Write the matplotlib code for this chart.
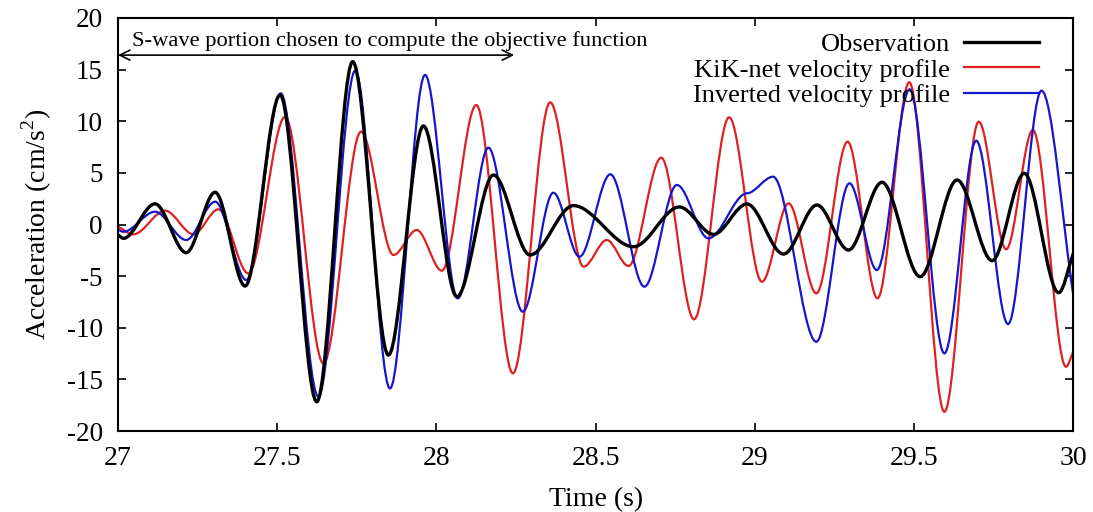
import matplotlib
matplotlib.use("Agg")
import matplotlib.pyplot as plt
from matplotlib.path import Path
from matplotlib.patches import PathPatch
from matplotlib.lines import Line2D

plt.rcParams["font.family"] = ["Liberation Serif", "DejaVu Serif"]
plt.rcParams["mathtext.fontset"] = "custom"
plt.rcParams["mathtext.rm"] = "Liberation Serif"
plt.rcParams["axes.unicode_minus"] = False

# Turning points (time in s, acceleration in cm/s^2) of each trace
obs_t = [27.0, 27.017, 27.116, 27.214, 27.305, 27.399, 27.509, 27.624, 27.737,
         27.849, 27.959, 28.064, 28.179, 28.294, 28.430, 28.619, 28.763, 28.870,
         28.975, 29.090, 29.195, 29.294, 29.399, 29.519, 29.635, 29.745, 29.846,
         29.954, 30.0]
obs_v = [-1.0, -1.34, 2.0, -2.73, 3.12, -5.96, 12.54, -17.16, 15.77,
         -12.64, 9.54, -6.99, 4.79, -2.95, 1.83, -2.15, 1.7, -0.95,
         1.99, -2.86, 1.89, -2.47, 4.09, -5.05, 4.31, -3.5, 4.96,
         -6.6, -2.8]

kik_t = [27.0, 27.048, 27.148, 27.237, 27.315, 27.409, 27.525, 27.645, 27.763,
         27.865, 27.938, 28.017, 28.125, 28.240, 28.357, 28.462, 28.535, 28.603,
         28.706, 28.809, 28.919, 29.022, 29.106, 29.193, 29.291, 29.385, 29.485,
         29.595, 29.703, 29.789, 29.873, 29.977, 30.0]
kik_v = [-0.2, -0.95, 1.34, -0.95, 1.47, -4.73, 10.44, -13.45, 8.99,
         -2.95, -0.53, -4.47, 11.57, -14.41, 11.83, -4.08, -1.5, -4.02,
         6.47, -9.18, 10.38, -5.54, 2.05, -6.67, 8.02, -7.15, 13.77,
         -18.13, 9.96, -2.4, 9.15, -13.77, -12.3]

inv_t = [27.0, 27.017, 27.116, 27.214, 27.305, 27.403, 27.511, 27.629, 27.745,
         27.854, 27.964, 28.067, 28.163, 28.271, 28.367, 28.449, 28.546, 28.653,
         28.755, 28.854, 28.975, 29.057, 29.193, 29.297, 29.383, 29.486, 29.595,
         29.695, 29.795, 29.900, 30.0]
inv_v = [-0.5, -0.7, 1.24, -1.5, 2.21, -5.38, 12.7, -16.67, 14.9,
         -15.87, 14.48, -7.15, 7.44, -8.44, 3.08, -3.12, 4.86, -6.02,
         3.83, -1.34, 3.02, 4.63, -11.35, 3.99, -4.41, 13.09, -12.48,
         8.12, -9.64, 12.96, -6.83]

series_labels = ["Observation", "KiK-net velocity profile", "Inverted velocity profile"]
x_ticks = [27, 27.5, 28, 28.5, 29, 29.5, 30]
x_tick_labels = ["27", "27.5", "28", "28.5", "29", "29.5", "30"]
y_ticks = [-20, -15, -10, -5, 0, 5, 10, 15, 20]
window_start, window_end = 27.0, 28.244
window_text = "S-wave portion chosen to compute the objective function"


def smooth_path(ts, vs):
    """Cubic Bezier path through the turning points, flat at each extremum."""
    n = len(ts)
    slopes = [0.0] * n
    slopes[0] = (vs[1] - vs[0]) / (ts[1] - ts[0])
    slopes[-1] = (vs[-1] - vs[-2]) / (ts[-1] - ts[-2])
    verts = [(ts[0], vs[0])]
    codes = [Path.MOVETO]
    for i in range(n - 1):
        dx = ts[i + 1] - ts[i]
        verts.append((ts[i] + dx / 3, vs[i] + slopes[i] * dx / 3))
        verts.append((ts[i + 1] - dx / 3, vs[i + 1] - slopes[i + 1] * dx / 3))
        verts.append((ts[i + 1], vs[i + 1]))
        codes += [Path.CURVE4] * 3
    return Path(verts, codes)


fig = plt.figure(figsize=(10.93, 5.12), dpi=100)
ax = fig.add_axes([0.108, 0.158, 0.874, 0.807])

styles = [
    dict(color="black", lw=2.4),
    dict(color="#e02020", lw=1.6),
    dict(color="#1515cc", lw=1.6),
]
series = [(obs_t, obs_v), (kik_t, kik_v), (inv_t, inv_v)]

# thin traces first, observation on top
for idx in (1, 2, 0):
    ts, vs = series[idx]
    st = styles[idx]
    ax.add_patch(PathPatch(smooth_path(ts, vs), fill=False, edgecolor=st["color"],
                           lw=st["lw"], capstyle="round", joinstyle="round",
                           zorder=3 if idx == 0 else 2))

ax.set_xlim(27, 30)
ax.set_ylim(-20, 20)
ax.set_xticks(x_ticks)
ax.set_xticklabels(x_tick_labels)
ax.set_yticks(y_ticks)
ax.tick_params(direction="in", top=True, right=True, length=6, width=1.2)
ax.tick_params(axis="x", pad=11, labelsize=20)
ax.tick_params(axis="y", pad=11, labelsize=19.5)
for sp in ax.spines.values():
    sp.set_linewidth(1.5)

ax.set_xlabel("Time (s)", fontsize=20, labelpad=11)
ax.set_ylabel(r"Acceleration (cm/s$^\mathrm{2}$)", fontsize=20, labelpad=9)

# window used for the objective function
ax.annotate("", xy=(window_start, 16.4), xytext=(window_end, 16.4),
            arrowprops=dict(arrowstyle="<->", color="black", lw=1.2,
                            shrinkA=0, shrinkB=0, mutation_scale=18))
ax.text(window_start + 0.045, 16.8, window_text, fontsize=16.2, ha="left",
        va="bottom")

handles = [Line2D([], [], **st) for st in styles]
ax.legend(handles, series_labels, loc="upper right", frameon=False,
          markerfirst=False, fontsize=19, handlelength=2.85, handletextpad=0.55,
          labelspacing=0.08, borderaxespad=0.0,
          bbox_to_anchor=(0.9755, 0.99))

fig.savefig("out.png", dpi=100)
